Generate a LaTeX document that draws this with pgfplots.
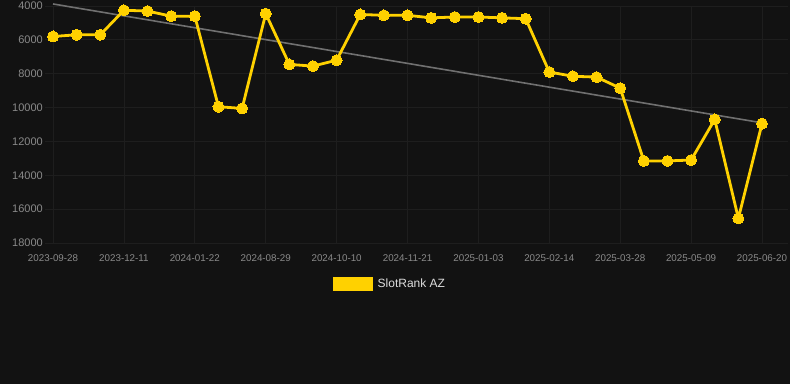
\documentclass[border=0pt]{standalone}
\usepackage{pgfplots}
\pgfplotsset{compat=1.18}
\usepackage{fontspec}
\setmainfont{Liberation Sans}
\definecolor{bg}{HTML}{121212}
\definecolor{gridc}{HTML}{1E1E1E}
\definecolor{gold}{HTML}{FFD100}
\definecolor{tickc}{HTML}{8A8A8A}
\definecolor{trend}{HTML}{707070}
\definecolor{legc}{HTML}{DDDDDD}
\begin{document}
\begin{tikzpicture}[x=1pt,y=1pt]
\fill[bg] (0,0) rectangle (790,384);
\begin{axis}[
  at={(45pt,141pt)}, anchor=south west,
  scale only axis, width=743pt, height=237pt,
  xmin=-0.34, xmax=31.1,
  ymin=4000, ymax=18000, y dir=reverse,
  clip=false,
  axis line style={draw=none},
  xtick={0,3,...,30},
  xticklabels={2023-09-28,2023-12-11,2024-01-22,2024-08-29,2024-10-10,2024-11-21,2025-01-03,2025-02-14,2025-03-28,2025-05-09,2025-06-20},
  ytick={4000,6000,...,18000},
  scaled y ticks=false,
  major tick length=0pt,
  grid=major,
  major grid style={gridc, line width=0.8pt},
  /pgf/number format/assume math mode=true,
  /pgf/number format/1000 sep={},
  yticklabel style={font=\fontsize{11}{11}\selectfont, text=tickc, anchor=east, inner sep=0pt, xshift=-2pt},
  xticklabel style={font=\fontsize{9.8}{10}\selectfont, text=tickc, anchor=north, inner sep=0pt, yshift=-11pt},
  legend style={at={(0.3872,-0.173)}, anchor=west, draw=none, fill=none, font=\fontsize{12}{12}\selectfont, text=legc, inner sep=0pt, nodes={inner sep=0pt}},
  legend image code/.code={\fill[gold] (0pt,-5.5pt) rectangle (37pt,5.5pt);},
  legend cell align=left,
  /tikz/every odd column/.append style={column sep=5pt},
]
\addplot[trend, line width=1.6pt, forget plot] coordinates {(0,3880) (30,10900)};
\addplot[gold, line width=2.8pt, mark=*, mark size=5.5pt, mark options={fill=gold, draw=gold, line width=0pt}] coordinates {
(0,5800) (1,5700) (2,5700) (3,4250) (4,4300) (5,4600) (6,4600) (7,9950) (8,10050) (9,4450)
(10,7450) (11,7550) (12,7200) (13,4500) (14,4550) (15,4550) (16,4700) (17,4650) (18,4650) (19,4700)
(20,4750) (21,7900) (22,8150) (23,8200) (24,8850) (25,13150) (26,13150) (27,13100) (28,10700) (29,16550) (30,10950)
};
\addlegendentry{SlotRank AZ}
\end{axis}
\pgfresetboundingbox
\path[use as bounding box] (0,0) rectangle (790,384);
\end{tikzpicture}
\end{document}
